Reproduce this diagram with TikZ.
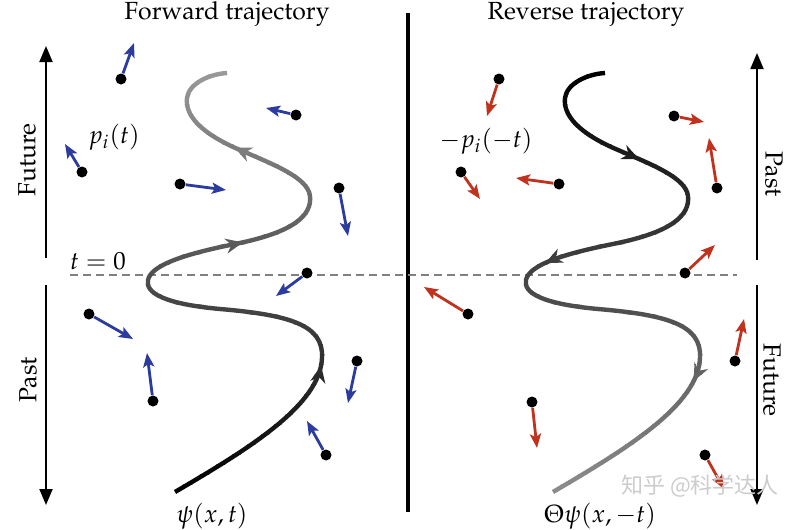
\documentclass[tikz,border=0pt]{standalone}
\usepackage[T1]{fontenc}
\usepackage{mathpazo}
\usetikzlibrary{arrows.meta,decorations.markings}
\definecolor{pblue}{HTML}{2B3B9E}
\definecolor{pred}{HTML}{C0321E}
\font\cjkwm="Noto Sans CJK SC" at 11pt
\newcommand\fwdpath{(175,492) .. controls (250,448) and (320,405) .. (322,358) .. controls (324,325) and (290,315) .. (220,309) .. controls (165,304) and (145,293) .. (148,280) .. controls (151,266) and (180,255) .. (235,244) .. controls (295,232) and (312,215) .. (310,196) .. controls (308,178) and (275,165) .. (240,150) .. controls (200,133) and (185,115) .. (187,98) .. controls (189,83) and (210,74) .. (227,73)}
\newcommand\revpath{(605,73) .. controls (588,74) and (567,83) .. (565,98) .. controls (563,115) and (578,133) .. (618,150) .. controls (653,165) and (686,178) .. (688,196) .. controls (690,215) and (673,232) .. (613,244) .. controls (558,255) and (529,266) .. (526,280) .. controls (523,293) and (543,304) .. (598,309) .. controls (668,315) and (702,325) .. (700,358) .. controls (698,405) and (628,448) .. (553,492)}
\tikzset{
  x=0.5pt, y=-0.5pt,
  every node/.style={font=\fontsize{12.4}{15}\selectfont, inner sep=0pt},
  dot/.style={circle, fill=black, minimum size=5.5pt},
  pa/.style={line width=1.4pt, -{Stealth[length=7pt,width=5.5pt,inset=1.5pt]}},
  axis/.style={line width=0.9pt, -{Triangle[length=8pt,width=6.5pt]}},
  traj/.style={line width=2.2pt},
  fwdmarks/.style={postaction={decorate}, decoration={markings,
     mark=at position 0.24 with {\arrow{Stealth[length=8.5pt,width=7.5pt]}},
     mark=at position 0.63 with {\arrow{Stealth[length=8.5pt,width=7.5pt]}},
     mark=at position 0.85 with {\arrow{Stealth[length=8.5pt,width=7.5pt]}}}},
  revmarks/.style={postaction={decorate}, decoration={markings,
     mark=at position 0.185 with {\arrow{Stealth[length=8.5pt,width=7.5pt]}},
     mark=at position 0.465 with {\arrow{Stealth[length=8.5pt,width=7.5pt]}},
     mark=at position 0.78 with {\arrow{Stealth[length=8.5pt,width=7.5pt]}}}},
}
\begin{document}
\begin{tikzpicture}
\useasboundingbox[fill=white] (0,0) rectangle (800,530);
% titles
\node (title1) at (227,14) {Forward trajectory};
\node (title2) at (586,14) {Reverse trajectory};
% centre divider
\coordinate (c0) at (408,13);
\coordinate (c1) at (408,512);
\draw[line width=2pt] (c0) -- (c1);
% dashed t=0 line
\coordinate (d0) at (70,275);
\coordinate (d1) at (737,275);
\draw[gray, line width=0.7pt, dash pattern=on 4pt off 2.5pt] (d0) -- (d1);
% time axes
\coordinate (lu0) at (46,258); \coordinate (lu1) at (46,46);
\coordinate (ld0) at (46,285); \coordinate (ld1) at (46,505);
\coordinate (ru0) at (757,260); \coordinate (ru1) at (757,53);
\coordinate (rd0) at (757,285); \coordinate (rd1) at (757,505);
\draw[axis] (lu0) -- (lu1);
\draw[axis] (ld0) -- (ld1);
\draw[axis] (ru0) -- (ru1);
\draw[axis] (rd0) -- (rd1);
\node[rotate=90] (fut1) at (27,160) {Future};
\node[rotate=90] (past1) at (28,380) {Past};
\node[rotate=-90] (past2) at (774,174) {Past};
\node[rotate=-90] (fut2) at (772,380) {Future};
% trajectories with grey gradient
\foreach \i in {0,...,44} {
  \pgfmathsetmacro\ya{64+10*\i}
  \pgfmathsetmacro\yb{\ya+10.8}
  \pgfmathsetmacro\ym{\ya+5}
  \pgfmathsetmacro\pl{min(100,max(38,40+0.1432*(\ym-73)))}
  \pgfmathsetmacro\pr{min(100,max(40,100-0.1313*(\ym-73)))}
  \begin{scope}
    \clip (0,\ya) rectangle (406,\yb);
    \draw[traj, color=black!\pl, fwdmarks] \fwdpath;
  \end{scope}
  \begin{scope}
    \clip (410,\ya) rectangle (800,\yb);
    \draw[traj, color=black!\pr, revmarks] \revpath;
  \end{scope}
}
% labels
\node (pit) at (114,137) {$p_i(t)$};
\node (mpit) at (486,141) {$-p_i(-t)$};
\node (t0) at (98,261) {$t=0$};
\node (psi) at (212,516) {$\psi(x,t)$};
\node (tpsi) at (600,516) {$\Theta\psi(x,-t)$};
% particles, forward (blue)
\foreach \n/\dx/\dy/\tx/\ty in {l1/121/79/134/43, l2/82/172/65/144, l3/296/115/266/108, l4/180/184/226/190, l5/339/188/348/236, l6/307/273/276/296, l7/89/314/133/339, l8/153/401/147/353, l9/357/361/348/403, l10/326/455/307/421}{
  \node[dot] (\n) at (\dx,\dy) {};
  \coordinate (\n-t) at (\tx,\ty);
  \draw[pa, pblue] (\n) -- (\n-t);
}
% particles, reverse (red)
\foreach \n/\dx/\dy/\tx/\ty in {r1/499/79/487/116, r2/674/116/704/122, r3/461/172/480/199, r4/559/184/516/178, r5/717/188/709/138, r6/685/273/715/245, r7/468/314/424/287, r8/735/361/744/319, r9/532/402/537/448, r10/705/455/724/489}{
  \node[dot] (\n) at (\dx,\dy) {};
  \coordinate (\n-t) at (\tx,\ty);
  \draw[pa, pred] (\n) -- (\n-t);
}
% watermark
\node[text=gray!40] (wm) at (700,486) {\cjkwm 知乎 @科学达人};
\end{tikzpicture}
\end{document}
